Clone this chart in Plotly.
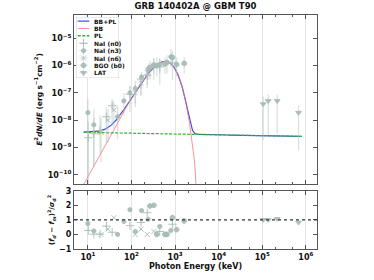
import numpy as np
import plotly.graph_objects as go

# ---------------- data ----------------
title_text = "GRB 140402A @ GBM T90"

# model parameters (BB + PL fit)
bb_kT = 150.0          # keV
bb_amp = 3.0e-7        # erg s^-1 cm^-2 scale of E^2 dN/dE
pl_norm = 3.36e-9      # E^2 dN/dE at 100 keV
pl_index = -2.03
pl_pivot = 100.0
model_emin, model_emax = 8.0, 8.0e5

# NaI (n0)
n0_E = [10.2, 13.7, 19.0, 26.5, 36.0, 92, 165, 230, 445, 870]
n0_F = [2.3e-9, 3.2e-9, 4.2e-9, 1.35e-8, 3.4e-8, 8.9e-8, 3.2e-7, 4.4e-7, 9.0e-7, 1.25e-6]
n0_lo = [3e-11, 2e-10, 6e-10, 1.5e-9, 6e-9, 2e-8, 8e-8, 1.5e-7, 2e-7, 3e-7]
n0_hi = [9e-9, 1.2e-8, 1.5e-8, 3e-8, 6e-8, 1.8e-7, 5e-7, 7e-7, 1.8e-6, 2.5e-6]
n0_res = [0.27, 0.02, 0.02, 0.57, 0.15, 0.6, 0.82, 1.49, 0.2, 0.7]

# NaI (n3)
n3_E = [10.0, 13.7, 48, 67, 92, 122, 170, 240, 445, 800]
n3_F = [1.9e-8, 6.8e-9, 1.35e-8, 5.1e-8, 1.0e-7, 1.45e-7, 3.8e-7, 7.4e-7, 1.1e-6, 2.1e-6]
n3_lo = [9e-11, 2e-10, 2e-9, 1.5e-8, 4e-8, 4e-8, 1.5e-7, 3e-7, 5e-7, 9e-7]
n3_hi = [6e-8, 2.5e-8, 3.5e-8, 1e-7, 1.8e-7, 2.8e-7, 6e-7, 1.2e-6, 1.9e-6, 4.0e-6]
n3_res = [0.75, 0.24, 0.0, 0.89, 1.7, 0.2, 1.64, 1.04, 0.55, 0.27]

# NaI (n6)
n6_E = [20, 29, 39.5, 122, 165, 230, 325]
n6_F = [3.6e-9, 1.0e-8, 2.4e-8, 1.0e-7, 2.3e-7, 5.6e-7, 9.5e-7]
n6_lo = [3e-10, 1.5e-9, 5e-9, 3e-8, 8e-8, 2e-7, 3e-7]
n6_hi = [1.2e-8, 2.5e-8, 5e-8, 2e-7, 4.5e-7, 9e-7, 1.8e-6]
n6_res = [0.0, 0.37, 1.15, 0.0, 0.37, 0.0, 0.2]

# BGO (b0)
b0_E = [265, 325, 380, 585, 650, 870, 1080, 1620]
b0_F = [8.5e-7, 1.05e-6, 1.0e-6, 1.15e-6, 1.3e-6, 2.0e-6, 1.1e-6, 1.2e-6]
b0_lo = [3e-7, 5e-7, 4e-7, 5e-7, 5e-7, 1.0e-6, 4e-7, 5e-7]
b0_hi = [1.5e-6, 1.9e-6, 2e-6, 2e-6, 2.4e-6, 3.5e-6, 2e-6, 2e-6]
b0_res = [1.95, 2.0, 0.0, 0.0, 0.0, 1.15, 0.33, 0.93]

# LAT
lat_E = [1.05e5, 1.37e5, 2.2e5, 6.8e5]
lat_F = [3.9e-8, 5.1e-8, 5.1e-8, 1.9e-8]
lat_lo = [1.9e-9, 2.8e-9, 3.4e-9, 8e-10]
lat_hi = [7.4e-8, 8.9e-8, 8.9e-8, 3.5e-8]
lat_res = [1.0, 1.0, 1.07, 0.82]

residual_ref = 1.0

x_range_keV = [4.8, 1.8e6]
y_range_flux = [10 ** -10.33, 10 ** -4.15]
y_range_res = [-1, 3]
x_tick_exps = [1, 2, 3, 4, 5, 6]
y_tick_exps = [-10, -9, -8, -7, -6, -5]
res_ticks = [-1, 0, 1, 2, 3]

legend_labels = ["BB+PL", "BB", "PL", "NaI (n0)", "NaI (n3)", "NaI (n6)", "BGO (b0)", "LAT"]

# ---------------- styles ----------------
FONT = "DejaVu Sans"
C_BLUE = "#3d4ff0"
C_RED = "rgba(250,110,110,0.75)"
C_GREEN = "#33b033"
C_PT = "rgba(165,186,182,0.9)"
C_ERR = "rgba(175,195,192,0.5)"
C_AX = "#555555"
C_GRID = "#dfe5e4"

detectors = [
    ("NaI (n0)", n0_E, n0_F, n0_lo, n0_hi, n0_res, "cross-thin", 6),
    ("NaI (n3)", n3_E, n3_F, n3_lo, n3_hi, n3_res, "hexagon", 4.5),
    ("NaI (n6)", n6_E, n6_F, n6_lo, n6_hi, n6_res, "x-thin", 5),
    ("BGO (b0)", b0_E, b0_F, b0_lo, b0_hi, b0_res, "octagon", 5),
    ("LAT", lat_E, lat_F, lat_lo, lat_hi, lat_res, "triangle-down", 5),
]

# ---------------- model ----------------
E = np.logspace(np.log10(model_emin), np.log10(model_emax), 500)
with np.errstate(over="ignore", divide="ignore", invalid="ignore"):
    xx = E / bb_kT
    bb = np.where(xx < 60, bb_amp * xx ** 4 / np.expm1(np.minimum(xx, 60)), np.nan)
pl = pl_norm * (E / pl_pivot) ** (2 + pl_index)
tot = np.nan_to_num(bb) + pl

fig = go.Figure()

fig.add_trace(go.Scatter(x=E, y=tot, mode="lines", line=dict(color=C_BLUE, width=1.2),
                         xaxis="x", yaxis="y", showlegend=False, hoverinfo="skip"))
fig.add_trace(go.Scatter(x=E, y=bb, mode="lines", line=dict(color=C_RED, width=1),
                         xaxis="x", yaxis="y", showlegend=False, hoverinfo="skip"))
fig.add_trace(go.Scatter(x=E, y=pl, mode="lines", line=dict(color=C_GREEN, width=1.2, dash="3px,1.5px"),
                         xaxis="x", yaxis="y", showlegend=False, hoverinfo="skip"))

for name, e, f, lo, hi, res, sym, sz in detectors:
    f_a = np.array(f)
    fig.add_trace(go.Scatter(
        x=e, y=f, mode="markers", xaxis="x", yaxis="y", showlegend=False,
        marker=dict(symbol=sym, size=sz, color=C_PT, line=dict(color=C_PT, width=1)),
        error_y=dict(type="data", symmetric=False, array=np.array(hi) - f_a,
                     arrayminus=f_a - np.array(lo), color=C_ERR, thickness=1.2, width=0),
    ))
    fig.add_trace(go.Scatter(
        x=e, y=res, mode="markers", xaxis="x2", yaxis="y2", showlegend=False,
        marker=dict(symbol=sym, size=sz, color=C_PT, line=dict(color=C_PT, width=1)),
    ))

# ---------------- manual legend (small, matplotlib-like) ----------------
row_px = 7.6
box_h_px = 63.0
first_px = 4.3
legend_y = [1 - (first_px + i * row_px) / box_h_px for i in range(len(legend_labels))]
fig.add_trace(go.Scatter(x=[0, 1, 1, 0, 0], y=[0, 0, 1, 1, 0], mode="lines", fill="toself",
                         fillcolor="white", line=dict(color="#cccccc", width=1),
                         xaxis="x3", yaxis="y5", showlegend=False, hoverinfo="skip"))
line_styles = [dict(color=C_BLUE, width=1.2), dict(color=C_RED, width=1),
               dict(color=C_GREEN, width=1.5, dash="3px,1.5px")]
for i in range(3):
    fig.add_trace(go.Scatter(x=[0.04, 0.31], y=[legend_y[i]] * 2, mode="lines", line=line_styles[i],
                             xaxis="x3", yaxis="y5", showlegend=False, hoverinfo="skip"))
for j, det in enumerate(detectors):
    i = j + 3
    fig.add_trace(go.Scatter(
        x=[0.175], y=[legend_y[i]], mode="markers", xaxis="x3", yaxis="y5", showlegend=False,
        hoverinfo="skip",
        marker=dict(symbol=det[6], size=det[7], color=C_PT, line=dict(color=C_PT, width=1)),
        error_y=dict(type="constant", value=0.06, color=C_ERR, thickness=1, width=0),
        error_x=dict(type="constant", value=0.1, color=C_ERR, thickness=1, width=0),
    ))
annotations = []
for i, lab in enumerate(legend_labels):
    annotations.append(dict(x=0.38, y=legend_y[i], xref="x3", yref="y5", text=lab, showarrow=False,
                            xanchor="left", yanchor="middle",
                            font=dict(family=FONT, size=6, color="#111", weight="bold")))

# ---------------- layout ----------------
xr = [np.log10(x_range_keV[0]), np.log10(x_range_keV[1])]
yr = [np.log10(y_range_flux[0]), np.log10(y_range_flux[1])]
tickfont = dict(family=FONT, size=8, color="#111", weight="bold")
x_tv = [10.0 ** k for k in x_tick_exps]
x_tt = [f"10<sup>{k}</sup>" for k in x_tick_exps]
y_tv = [10.0 ** k for k in y_tick_exps]
y_tt = [f"10<sup>\u2212{abs(k)}</sup>" for k in y_tick_exps]
r_tt = [(f"\u2212{abs(v)}" if v < 0 else str(v)) for v in res_ticks]

main_dom = [0.278, 1.0]
res_dom = [0.0, 0.249]
common_x = dict(type="log", range=xr, showline=True, linecolor=C_AX, linewidth=1.2, mirror="allticks",
                ticks="inside", ticklen=4, tickcolor=C_AX, tickvals=x_tv, showgrid=True,
                gridcolor=C_GRID, gridwidth=1, zeroline=False,
                minor=dict(ticks="inside", ticklen=2, tickcolor=C_AX, showgrid=False))

fig.update_layout(
    width=374, height=280,
    margin=dict(l=74, r=57, t=11, b=28),
    plot_bgcolor="white", paper_bgcolor="white",
    showlegend=False,
    title=dict(text=title_text, x=(74 + 317) / 2 / 374, xanchor="center", y=1 - 6.5 / 280,
               yanchor="middle", yref="container",
               font=dict(family=FONT, size=8.5, color="#111", weight="bold")),
    xaxis=dict(common_x, anchor="y", domain=[0, 1], showticklabels=False),
    yaxis=dict(type="log", range=yr, domain=main_dom, anchor="x", showline=True, linecolor=C_AX,
               linewidth=1.2, mirror="allticks", ticks="inside", ticklen=4, tickcolor=C_AX,
               tickvals=y_tv, ticktext=y_tt, tickfont=tickfont, showgrid=False, zeroline=False,
               title=dict(text="<i>E</i><sup>2</sup><i>dN/dE</i> (erg s<sup>\u22121</sup>cm<sup>\u22122</sup>)",
                          font=dict(family=FONT, size=7.5, color="#111", weight="bold"), standoff=4)),
    yaxis3=dict(type="log", range=yr, overlaying="y", side="right", anchor="x", showline=False,
                ticks="", tickvals=y_tv, ticktext=y_tt, tickfont=tickfont, showgrid=False,
                zeroline=False),
    xaxis2=dict(common_x, anchor="y2", domain=[0, 1], ticktext=x_tt, tickfont=tickfont,
                title=dict(text="Photon Energy (keV)", font=dict(family=FONT, size=8, color="#111", weight="bold"),
                           standoff=2)),
    yaxis2=dict(range=y_range_res, domain=res_dom, anchor="x2", showline=True, linecolor=C_AX,
                linewidth=1.2, mirror="allticks", ticks="inside", ticklen=4, tickcolor=C_AX,
                tickvals=res_ticks, ticktext=r_tt, tickfont=tickfont, showgrid=False, zeroline=False,
                title=dict(text="(<i>f<sub>d</sub></i> \u2212 <i>f<sub>m</sub></i>)<sup>2</sup>/<i>\u03c3</i><sub>d</sub><sup>2</sup>",
                           font=dict(family=FONT, size=7, color="#111", weight="bold"), standoff=3)),
    yaxis4=dict(range=y_range_res, overlaying="y2", side="right", anchor="x2", showline=False,
                ticks="", tickvals=res_ticks, ticktext=r_tt, tickfont=tickfont, showgrid=False,
                zeroline=False),
    xaxis3=dict(domain=[2 / 243, 45 / 243], range=[0, 1], visible=False, anchor="y5", fixedrange=True),
    yaxis5=dict(domain=[(252 - 76) / 241, (252 - 13) / 241], range=[0, 1], visible=False, anchor="x3",
                fixedrange=True),
    annotations=annotations,
    shapes=[dict(type="line", xref="x2 domain", x0=0, x1=1, yref="y2", y0=residual_ref, y1=residual_ref,
                 line=dict(color="#333", width=1.2, dash="dot"), layer="above")],
)

fig.write_html("out.html", config={"displayModeBar": False},
               post_script="document.body.style.margin='0';document.body.style.padding='0';")
